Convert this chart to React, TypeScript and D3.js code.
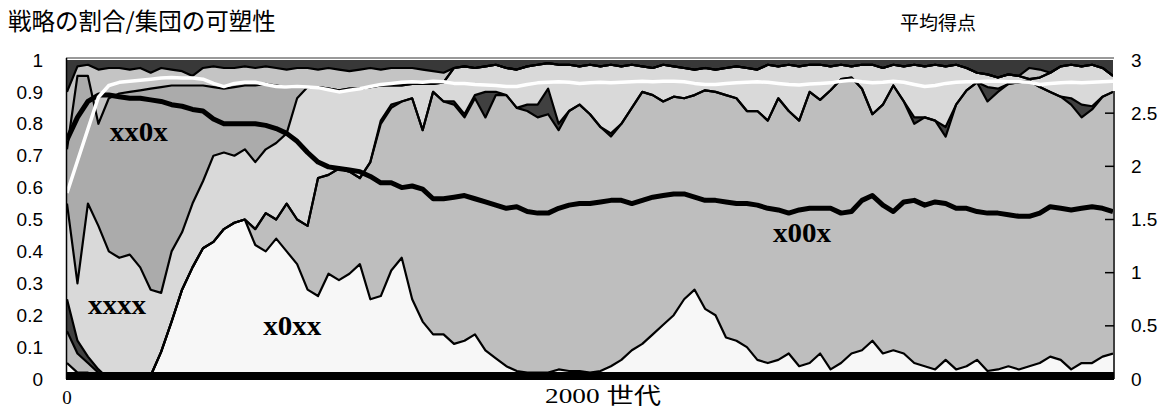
import React from 'react';
import * as d3 from 'd3';

// generations sampled every 20 (0..2000)
const generations = d3.range(0, 2001, 20);

// cumulative top edge of each strategy band, bottom -> top
const topX0xx = [0.05,0.02,0.02,0,0,0,0,0,0.01,0.085,0.18,0.28,0.35,0.41,0.43,0.47,0.49,0.5,0.42,0.4,0.44,0.4,0.36,0.28,0.26,0.33,0.31,0.33,0.36,0.25,0.26,0.34,0.38,0.25,0.18,0.14,0.14,0.11,0.12,0.14,0.09,0.065,0.04,0.025,0.02,0.02,0.02,0.03,0.025,0.025,0.02,0.025,0.04,0.06,0.09,0.11,0.14,0.17,0.2,0.25,0.28,0.22,0.2,0.13,0.12,0.1,0.06,0.05,0.06,0.08,0.04,0.05,0.08,0.03,0.05,0.08,0.09,0.12,0.08,0.09,0.08,0.05,0.04,0.03,0.06,0.03,0.04,0.06,0.025,0.03,0.04,0.03,0.04,0.05,0.07,0.06,0.03,0.05,0.05,0.07,0.08];
const topX00x = [0.15,0.08,0.05,0.02,0,0,0,0,0.01,0.085,0.18,0.28,0.35,0.41,0.43,0.47,0.49,0.5,0.47,0.52,0.5,0.55,0.5,0.48,0.63,0.64,0.66,0.65,0.63,0.68,0.8,0.85,0.87,0.88,0.78,0.9,0.87,0.86,0.82,0.88,0.82,0.89,0.89,0.85,0.84,0.82,0.83,0.78,0.84,0.86,0.83,0.79,0.76,0.8,0.85,0.9,0.89,0.87,0.885,0.88,0.89,0.905,0.9,0.89,0.88,0.84,0.84,0.81,0.88,0.84,0.81,0.9,0.875,0.905,0.94,0.945,0.91,0.83,0.86,0.92,0.87,0.8,0.82,0.81,0.76,0.86,0.905,0.93,0.87,0.9,0.925,0.93,0.935,0.915,0.9,0.885,0.86,0.82,0.845,0.885,0.9];
const topDark = [0.25,0.12,0.07,0.03,0,0,0,0,0.01,0.085,0.18,0.28,0.35,0.41,0.43,0.47,0.49,0.5,0.47,0.52,0.5,0.55,0.5,0.48,0.63,0.64,0.66,0.65,0.63,0.68,0.81,0.86,0.87,0.88,0.78,0.9,0.87,0.87,0.83,0.89,0.9,0.9,0.89,0.85,0.86,0.86,0.91,0.8,0.84,0.86,0.83,0.79,0.77,0.8,0.85,0.9,0.89,0.87,0.885,0.88,0.89,0.905,0.9,0.89,0.88,0.84,0.84,0.81,0.88,0.84,0.81,0.9,0.875,0.905,0.94,0.945,0.91,0.83,0.86,0.92,0.87,0.82,0.82,0.81,0.79,0.86,0.905,0.93,0.915,0.91,0.925,0.93,0.935,0.915,0.9,0.885,0.88,0.86,0.855,0.885,0.9];
const topXxxx = [0.55,0.3,0.55,0.48,0.4,0.38,0.39,0.35,0.28,0.27,0.4,0.46,0.55,0.62,0.7,0.71,0.7,0.72,0.68,0.72,0.74,0.77,0.88,0.915,0.915,0.91,0.905,0.91,0.91,0.915,0.92,0.92,0.92,0.925,0.925,0.925,0.93,0.975,0.98,0.975,0.98,0.985,0.975,0.97,0.98,0.985,0.99,0.985,0.985,0.98,0.985,0.98,0.985,0.98,0.985,0.98,0.975,0.985,0.98,0.975,0.97,0.975,0.97,0.975,0.98,0.975,0.97,0.985,0.98,0.985,0.98,0.985,0.985,0.98,0.985,0.98,0.985,0.985,0.975,0.985,0.98,0.985,0.98,0.985,0.98,0.985,0.975,0.96,0.955,0.945,0.955,0.95,0.94,0.945,0.96,0.98,0.985,0.98,0.985,0.975,0.95];
const topXx0x = [0.72,0.95,0.95,0.8,0.88,0.895,0.9,0.905,0.91,0.915,0.92,0.92,0.92,0.92,0.915,0.91,0.915,0.92,0.92,0.925,0.92,0.915,0.915,0.915,0.915,0.91,0.905,0.91,0.91,0.915,0.92,0.92,0.92,0.925,0.925,0.925,0.93,0.975,0.98,0.975,0.98,0.985,0.975,0.97,0.98,0.985,0.99,0.985,0.985,0.98,0.985,0.98,0.985,0.98,0.985,0.98,0.975,0.985,0.98,0.975,0.97,0.975,0.97,0.975,0.98,0.975,0.97,0.985,0.98,0.985,0.98,0.985,0.985,0.98,0.985,0.98,0.985,0.985,0.975,0.985,0.98,0.985,0.98,0.985,0.98,0.985,0.975,0.96,0.955,0.945,0.955,0.95,0.94,0.945,0.96,0.98,0.985,0.98,0.985,0.975,0.95];
const topUpper = [0.9,0.98,0.985,0.97,0.975,0.975,0.97,0.975,0.96,0.975,0.97,0.965,0.95,0.975,0.98,0.975,0.975,0.98,0.975,0.98,0.975,0.97,0.975,0.975,0.97,0.975,0.97,0.965,0.97,0.975,0.97,0.975,0.975,0.975,0.97,0.965,0.96,0.975,0.98,0.975,0.98,0.985,0.975,0.97,0.98,0.985,0.99,0.985,0.985,0.98,0.985,0.98,0.985,0.98,0.985,0.98,0.975,0.985,0.98,0.975,0.97,0.975,0.97,0.975,0.98,0.975,0.97,0.985,0.98,0.985,0.98,0.985,0.985,0.98,0.985,0.98,0.985,0.985,0.975,0.985,0.98,0.985,0.98,0.985,0.98,0.985,0.975,0.96,0.955,0.945,0.955,0.95,0.975,0.97,0.96,0.98,0.985,0.98,0.985,0.975,0.95];

// group plasticity (left axis) and mean score (right axis)
const plasticity = [0.75,0.82,0.87,0.89,0.89,0.885,0.88,0.88,0.875,0.87,0.86,0.855,0.845,0.84,0.815,0.8,0.8,0.8,0.8,0.795,0.785,0.77,0.745,0.71,0.68,0.665,0.66,0.655,0.65,0.635,0.615,0.615,0.6,0.605,0.595,0.565,0.565,0.57,0.575,0.565,0.555,0.545,0.535,0.54,0.525,0.52,0.52,0.535,0.545,0.55,0.55,0.555,0.56,0.56,0.55,0.56,0.57,0.575,0.58,0.58,0.57,0.56,0.56,0.555,0.55,0.55,0.545,0.535,0.53,0.52,0.53,0.535,0.535,0.535,0.52,0.525,0.56,0.575,0.545,0.525,0.555,0.56,0.545,0.555,0.55,0.535,0.535,0.525,0.52,0.52,0.515,0.51,0.51,0.52,0.54,0.535,0.53,0.535,0.54,0.535,0.525];
const meanScore = [1.75,2.05,2.35,2.65,2.76,2.79,2.8,2.81,2.82,2.83,2.835,2.83,2.83,2.82,2.78,2.75,2.78,2.79,2.79,2.77,2.75,2.745,2.75,2.745,2.74,2.72,2.7,2.715,2.73,2.75,2.77,2.78,2.79,2.795,2.79,2.8,2.795,2.78,2.78,2.77,2.765,2.76,2.75,2.75,2.77,2.785,2.79,2.795,2.79,2.78,2.785,2.79,2.785,2.79,2.795,2.8,2.795,2.8,2.8,2.795,2.78,2.77,2.77,2.78,2.785,2.79,2.795,2.79,2.78,2.77,2.765,2.775,2.78,2.785,2.8,2.81,2.795,2.785,2.79,2.8,2.79,2.77,2.75,2.76,2.78,2.79,2.795,2.795,2.8,2.8,2.795,2.795,2.79,2.77,2.78,2.785,2.79,2.785,2.79,2.795,2.8];

const layerKeys = ['x0xx', 'x00x', 'dark', 'xxxx', 'xx0x', 'upper', 'top'];
const layerColors = ['#f7f7f7', '#bebebe', '#404040', '#d9d9d9', '#ababab', '#c4c4c4', '#383838'];

const leftTicks = [0, 0.1, 0.2, 0.3, 0.4, 0.5, 0.6, 0.7, 0.8, 0.9, 1];
const rightTicks = [0, 0.5, 1, 1.5, 2, 2.5, 3];

const labels = [
  { text: 'xx0x', gen: 82, value: 0.745 },
  { text: 'xxxx', gen: 40, value: 0.205 },
  { text: 'x0xx', gen: 375, value: 0.138 },
  { text: 'x00x', gen: 1350, value: 0.428 },
];

const width = 1163;
const height = 408;
const plot = { left: 67, right: 1113, top: 58, bottom: 379 };

const App = () => {
  const x = d3.scaleLinear().domain([0, 2000]).range([plot.left, plot.right]);
  const y = d3.scaleLinear().domain([0, 1]).range([plot.bottom, plot.top + 2]);
  const yScore = d3.scaleLinear().domain([0, 3]).range([plot.bottom, plot.top + 2]);

  const bounds = [topX0xx, topX00x, topDark, topXxxx, topXx0x, topUpper];
  const rows = generations.map((g, i) => {
    const row: any = { gen: g };
    let prev = 0;
    layerKeys.forEach((k, j) => {
      const top = j < bounds.length ? bounds[j][i] : 1;
      row[k] = Math.max(0, top - prev);
      prev = Math.max(prev, top);
    });
    return row;
  });
  const series = d3.stack<any>().keys(layerKeys)(rows);

  const area = d3.area<any>()
    .x(d => x(d.data.gen))
    .y0(d => y(d[0]))
    .y1(d => y(d[1]));
  const edge = d3.line<any>()
    .x(d => x(d.data.gen))
    .y(d => y(d[1]));

  const plastLine = d3.line<number>()
    .x((_, i) => x(generations[i]))
    .y(d => y(d));
  const scoreLine = d3.line<number>()
    .x((_, i) => x(generations[i]))
    .y(d => yScore(d));

  return (
    <svg width={width} height={height} style={{ position: 'absolute', left: 0, top: 0, background: '#fff' }}>
      <defs>
        <clipPath id="plotClip">
          <rect x={plot.left} y={plot.top} width={plot.right - plot.left} height={plot.bottom - plot.top} />
        </clipPath>
      </defs>

      <text x={8} y={30} fontFamily="'Noto Sans CJK JP', sans-serif" fontSize={23.5} fill="#000">戦略の割合/集団の可塑性</text>
      <text x={900} y={30} fontFamily="'Noto Sans CJK JP', sans-serif" fontSize={19} fill="#000">平均得点</text>

      <line x1={plot.left - 1} x2={plot.right + 1} y1={plot.top} y2={plot.top} stroke="#777" strokeWidth={1.5} />

      <g clipPath="url(#plotClip)">
        {series.map((s, j) => (
          <path key={s.key} d={area(s) || ''} fill={layerColors[j]} />
        ))}
        {series.slice(0, -1).map(s => (
          <path key={'e' + s.key} d={edge(s) || ''} fill="none" stroke="#000" strokeWidth={2.2} strokeLinejoin="round" />
        ))}
        <path d={plastLine(plasticity) || ''} fill="none" stroke="#000" strokeWidth={5} strokeLinejoin="round" />
        <path d={scoreLine(meanScore) || ''} fill="none" stroke="#fff" strokeWidth={3.5} strokeLinejoin="round" />
      </g>

      {/* frame */}
      <line x1={plot.left - 0.5} x2={plot.left - 0.5} y1={plot.top} y2={plot.bottom} stroke="#000" strokeWidth={1.5} />
      <rect x={plot.left - 1} y={372} width={plot.right - plot.left + 2} height={8} fill="#000" />
      <line x1={plot.right + 1} x2={plot.right + 1} y1={91} y2={plot.bottom} stroke="#000" strokeWidth={1.5} />
      {rightTicks.filter(t => t > 0 && t < 3).map(t => (
        <line key={'rt' + t} x1={plot.right - 8} x2={plot.right + 1} y1={yScore(t)} y2={yScore(t)} stroke="#000" strokeWidth={1.5} />
      ))}

      {/* left axis labels */}
      {leftTicks.map(t => (
        <text key={'l' + t} x={43} y={y(t)} dy="0.35em" textAnchor="end" fontFamily="'Liberation Sans', Arial, sans-serif" fontSize={19} fill="#000">
          {String(+t.toFixed(1))}
        </text>
      ))}
      {/* right axis labels */}
      {rightTicks.map(t => (
        <text key={'r' + t} x={1131} y={yScore(t)} dy="0.35em" textAnchor="start" fontFamily="'Liberation Sans', Arial, sans-serif" fontSize={19} fill="#000">
          {String(t)}
        </text>
      ))}

      {/* x axis */}
      <text x={x(0)} y={404} textAnchor="middle" fontFamily="'Liberation Serif', serif" fontSize={19} fill="#000">0</text>
      <text x={545} y={403} fontFamily="'Liberation Serif', 'Noto Sans CJK JP', serif" fontSize={22} fill="#000" textLength={116} lengthAdjust="spacingAndGlyphs">2000 世代</text>

      {/* strategy labels */}
      {labels.map(l => (
        <text key={l.text} x={x(l.gen)} y={y(l.value)} fontFamily="'Liberation Serif', serif" fontWeight="bold" fontSize={27} fill="#000" textLength={58} lengthAdjust="spacingAndGlyphs">
          {l.text}
        </text>
      ))}
    </svg>
  );
};

export default App;
